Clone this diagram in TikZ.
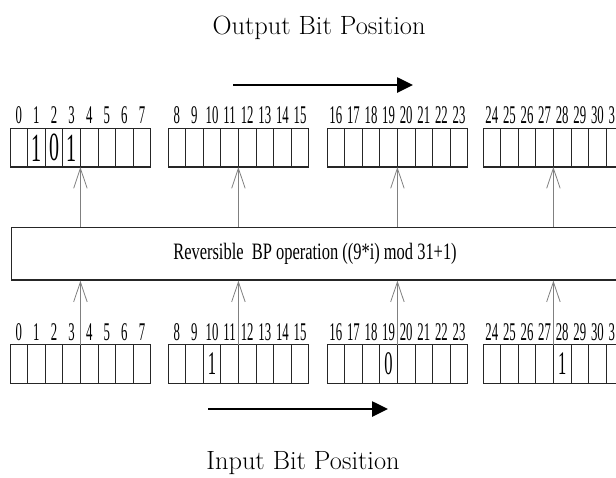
\documentclass[tikz,border=0pt]{standalone}
\usepackage{fontspec}
\newfontfamily\narrowserif[FakeStretch=0.5]{Liberation Serif}
\newfontfamily\opserif[FakeStretch=0.7]{Liberation Serif}
\usetikzlibrary{arrows.meta}

\tikzset{
  cell/.style={draw=black!85, line width=0.7pt, minimum width=17.6pt, minimum height=38.5pt, inner sep=0pt, outer sep=0pt},
  edge/.style={line width=1.3pt, black!85},
  lbl/.style={font=\narrowserif\fontsize{25.5}{25.5}\selectfont, inner sep=0pt},
  bitbig/.style={font=\narrowserif\fontsize{40}{40}\selectfont, inner sep=0pt},
  bitsmall/.style={font=\narrowserif\fontsize{33}{33}\selectfont, inner sep=0pt},
  conn/.style={draw=black!50, line width=0.8pt, -{Straight Barb[length=20pt,width=13.5pt]}},
  bigarrow/.style={line width=2.6pt, -{Triangle[length=16pt,width=15pt]}},
  title/.style={font=\fontsize{26.4}{26.4}\selectfont, inner sep=0pt},
  opbox/.style={draw=black!85, line width=1.2pt, minimum width=640pt, minimum height=52.5pt, inner sep=0pt, anchor=west},
}

\begin{document}
\begin{tikzpicture}[x=1pt,y=-1pt]
\useasboundingbox (0,0) rectangle (616,477);
\clip (0,0) rectangle (616,477);

% bit cells, position numbers above them
\foreach \n in {0,...,31} {
  \pgfmathtruncatemacro\blk{int(\n/8)}
  \pgfmathtruncatemacro\pos{\n-8*\blk}
  \pgfmathsetmacro\bx{{10,168,327,483}[\blk]}
  \pgfmathsetmacro\cx{\bx+(\pos+0.5)*17.6}
  \node[cell] (t\n) at (\cx,147.8) {};
  \node[cell] (b\n) at (\cx,363.9) {};
  \node[lbl] (tl\n) at (\cx,115) {\n};
  \node[lbl] (bl\n) at (\cx,332) {\n};
}

% heavier top and bottom rules of each byte
\foreach \a/\z in {0/7,8/15,16/23,24/31} {
  \draw[edge] (t\a.north west) -- (t\z.north east);
  \draw[edge] (t\a.south west) -- (t\z.south east);
  \draw[edge] (b\a.north west) -- (b\z.north east);
  \draw[edge] (b\a.south west) -- (b\z.south east);
}

% cell contents
\node[bitbig] (o1) at (t1) {1};
\node[bitbig] (o2) at (t2) {0};
\node[bitbig] (o3) at (t3) {1};
\node[bitsmall] (i10) at (b10) {1};
\node[bitsmall] (i19) at (b19) {0};
\node[bitsmall] (i28) at (b28) {1};

% permutation block
\node[opbox] (op) at (11,253.8) {};
\node[font=\opserif\fontsize{23.5}{23.5}\selectfont, inner sep=0pt] (optext) at (315,254) {Reversible\ \ BP operation ((9*i) mod 31+1)};

% connectors through the permutation block
\foreach \c in {4,12,20,28} {
  \draw[conn] (b\c.north west) -- (b\c.north west |- op.south);
  \draw[conn] (t\c.south west |- op.north) -- (t\c.south west);
}

% direction arrows and captions
\coordinate (oa) at (233,85);
\coordinate (ob) at (413,85);
\draw[bigarrow] (oa) -- (ob);
\coordinate (ia) at (208,409);
\coordinate (ib) at (388,409);
\draw[bigarrow] (ia) -- (ib);

\node[title] (outcap) at (319,28) {Output Bit Position};
\node[title] (incap) at (303,463) {Input Bit Position};
\end{tikzpicture}
\end{document}
